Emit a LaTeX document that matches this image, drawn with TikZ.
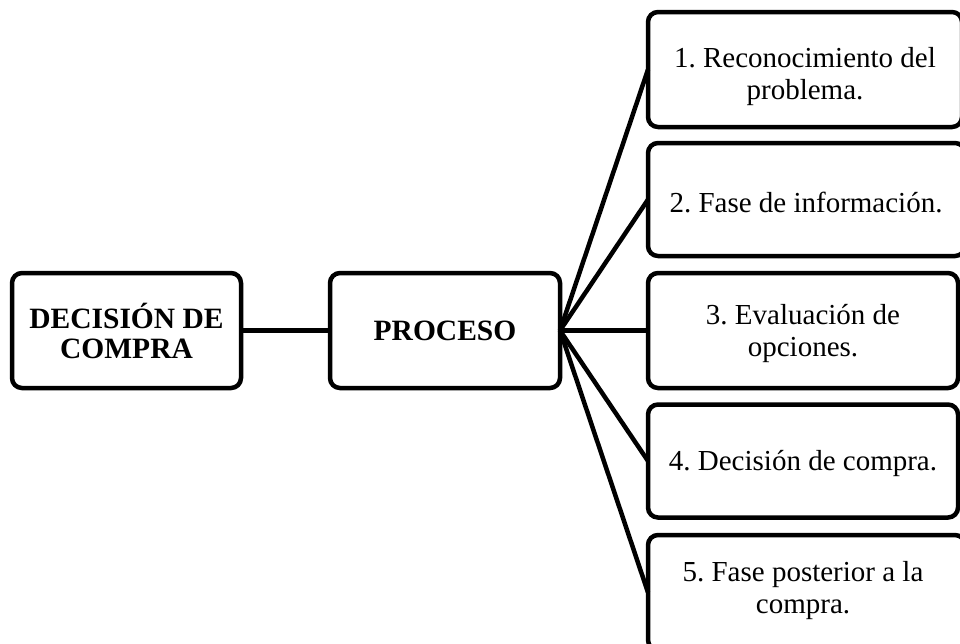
\documentclass[tikz,border=0pt]{standalone}
\usepackage{fontspec}
\setmainfont{Liberation Serif}
\frenchspacing
\begin{document}
\begin{tikzpicture}[x=1pt,y=-1pt,
  box/.style={draw=black, line width=4.5pt, rounded corners=10pt, rectangle,
    align=center, inner sep=0pt, outer sep=0pt, fill=white},
  bbox/.style={box, font=\fontsize{29.5}{30}\selectfont\bfseries},
  lbl/.style={font=\fontsize{29}{32}\selectfont, align=center},
  link/.style={draw=black, line width=4.5pt}]
\useasboundingbox (0,0) rectangle (960,643);
\node[bbox, minimum width=229pt, minimum height=115pt] (dec) at (126.5,330.5) {DECISIÓN DE\\COMPRA};
\node[bbox, minimum width=230pt, minimum height=115pt] (pro) at (445,330.5) {PROCESO};
\node[box, minimum width=314pt, minimum height=115pt, anchor=west] (s1) at (648,69.5) {};
\node[box, minimum width=317pt, minimum height=113pt, anchor=west] (s2) at (648,199.5) {};
\node[box, minimum width=310pt, minimum height=115pt, anchor=west] (s3) at (648,330.5) {};
\node[box, minimum width=310pt, minimum height=113pt, anchor=west] (s4) at (648,461) {};
\node[box, minimum width=317pt, minimum height=115pt, anchor=west] (s5) at (648,592.5) {};
\node[lbl] (t1) at (805,77) {1. Reconocimiento del\\problema.};
\node[lbl] (t2) at (806,202) {2. Fase de información.};
\node[lbl] (t3) at (803,333) {3. Evaluación de\\opciones.};
\node[lbl] (t4) at (803,463) {4. Decisión de compra.};
\node[lbl] (t5) at (803,591) {5. Fase posterior a la\\compra.};
\draw[link] (dec.east) -- (pro.west);
\foreach \s in {s1,s2,s3,s4,s5} \draw[link] (pro.east) -- (\s.west);
\end{tikzpicture}
\end{document}
